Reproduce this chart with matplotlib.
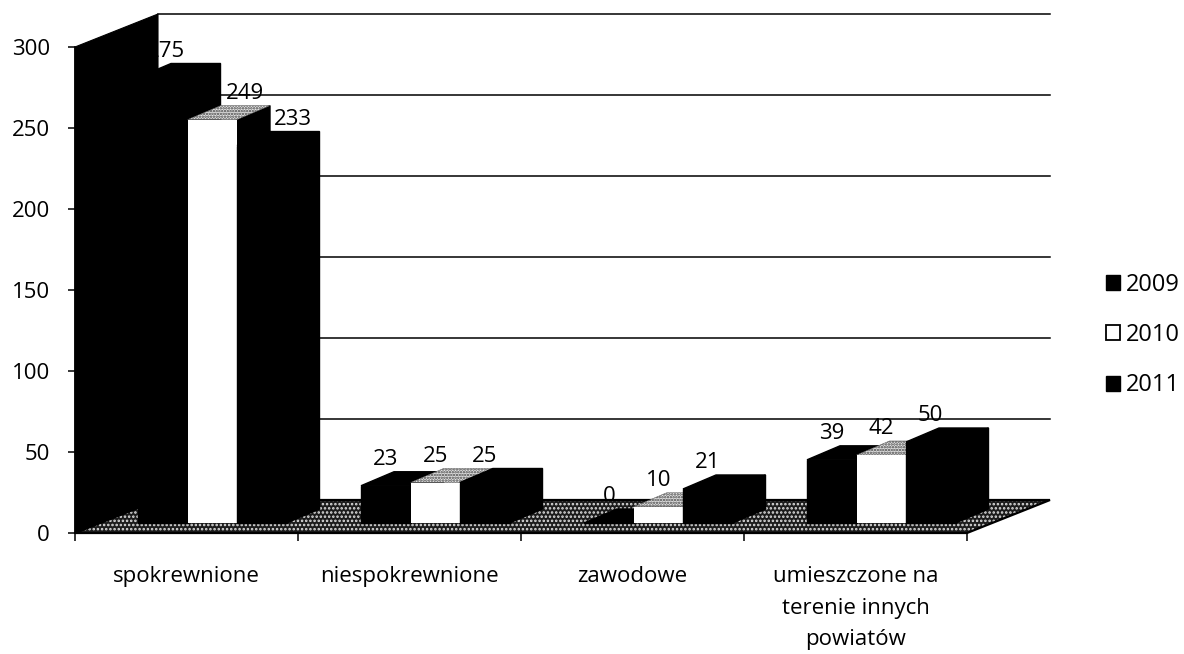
import matplotlib
matplotlib.use("Agg")
import matplotlib.pyplot as plt
from matplotlib.patches import Polygon, Patch

categories = ["spokrewnione", "niespokrewnione", "zawodowe", "umieszczone na\nterenie innych\npowiatów"]
years = ["2009", "2010", "2011"]
v2009 = [275, 23, 0, 39]
v2010 = [249, 25, 10, 42]
v2011 = [233, 25, 21, 50]
y_ticks = [0, 50, 100, 150, 200, 250, 300]

W, H = 1184, 654
plt.rcParams["font.family"] = ["Open Sans", "DejaVu Sans"]
plt.rcParams["hatch.linewidth"] = 1.2
fig = plt.figure(figsize=(W / 100, H / 100), dpi=100)
ax = fig.add_axes([75 / W, (H - 533) / H, 892 / W, 486 / H])
ax.set_xlim(0, 4)
ax.set_ylim(0, 300)

px_x = 4 / 892
px_y = 300 / 486
wall_dx, wall_dy = 83 * px_x, 33 * px_y
bar_dx, bar_dy = 33 * px_x, 14 * px_y
base = 10 * px_y
bar_w = 49.5 * px_x
start = 63 * px_x

# back grid
for t in y_ticks[1:]:
    ax.plot([wall_dx, 4 + wall_dx], [t + wall_dy] * 2, color="black", lw=1.1, clip_on=False, zorder=1)

# data labels, behind wall and floor
label_shift = [[3, 33, 31], [0, 0, 0], [0, 0, 0], [0, 0, 0]]
series = [v2009, v2010, v2011]
for g in range(4):
    for s in range(3):
        xc = g + start + (s + 0.5) * bar_w
        val = series[s][g]
        ax.annotate(str(val), (xc, val + base), xytext=(label_shift[g][s] * 0.72, 19),
                    textcoords="offset points", ha="center", va="center",
                    fontsize=16, color="black", annotation_clip=False, zorder=2)

# floor
floor = [(0, 0), (4, 0), (4 + wall_dx, wall_dy), (wall_dx, wall_dy)]
ax.add_patch(Polygon(floor, closed=True, facecolor="#1c1c1c", edgecolor="#e0e0e0", hatch="....",
                     lw=0, clip_on=False, zorder=3))
ax.add_patch(Polygon(floor, closed=True, fill=False, edgecolor="black", lw=1.6, clip_on=False, zorder=3.1))
# left wall
ax.add_patch(Polygon([(0, 0), (wall_dx, wall_dy), (wall_dx, 300 + wall_dy), (0, 300)], closed=True,
                     facecolor="black", edgecolor="black", lw=0.8, clip_on=False, zorder=3.2))

# bars
fronts = ["black", "white", "black"]
z = 4
for g in range(4):
    for s in range(3):
        x0 = g + start + s * bar_w
        x1 = x0 + bar_w
        val = series[s][g]
        top = val + base
        ax.add_patch(Polygon([(x1, base), (x1 + bar_dx, base + bar_dy), (x1 + bar_dx, top + bar_dy), (x1, top)],
                             closed=True, facecolor="black", edgecolor="black", lw=1.0, clip_on=False, zorder=z))
        if s == 1:
            ax.add_patch(Polygon([(x0, top), (x1, top), (x1 + bar_dx, top + bar_dy), (x0 + bar_dx, top + bar_dy)],
                                 closed=True, facecolor="#e4e4e4", edgecolor="#444444", hatch="......", lw=0.3,
                                 clip_on=False, zorder=z))
        else:
            ax.add_patch(Polygon([(x0, top), (x1, top), (x1 + bar_dx, top + bar_dy), (x0 + bar_dx, top + bar_dy)],
                                 closed=True, facecolor="black", edgecolor="black", lw=1.0, clip_on=False, zorder=z))
        ax.bar(x0, val, width=bar_w, bottom=base, align="edge", color=fronts[s],
               edgecolor="black" if s != 1 else "none", lw=1.0, clip_on=False, zorder=z + 0.5)
        z += 1

# axes
for side in ["top", "right"]:
    ax.spines[side].set_visible(False)
for side in ["left", "bottom"]:
    ax.spines[side].set_linewidth(1.2)
    ax.spines[side].set_zorder(40)
ax.set_yticks(y_ticks)
ax.set_xticks(range(5))
ax.set_xticklabels([""] * 5)
ax.set_xticks([i + 0.5 for i in range(4)], minor=True)
ax.set_xticklabels(categories, minor=True, fontsize=16, linespacing=1.66)
ax.tick_params(axis="x", which="minor", length=0, pad=24)
ax.tick_params(axis="x", which="major", length=6, width=1.1)
ax.tick_params(axis="y", length=5, width=1.1, pad=13, labelsize=16)
ax.patch.set_alpha(0)

handles = [Patch(facecolor="black", edgecolor="black"),
           Patch(facecolor="white", edgecolor="black", lw=1.3),
           Patch(facecolor="black", edgecolor="black")]
fig.legend(handles, years, loc="center left", bbox_to_anchor=(1106 / W, (H - 335) / H), frameon=False,
           fontsize=17, labelspacing=1.12, handlelength=0.61, handleheight=0.61, handletextpad=0.25,
           borderpad=0, borderaxespad=0)

fig.savefig("out.png", dpi=100, facecolor="white")
